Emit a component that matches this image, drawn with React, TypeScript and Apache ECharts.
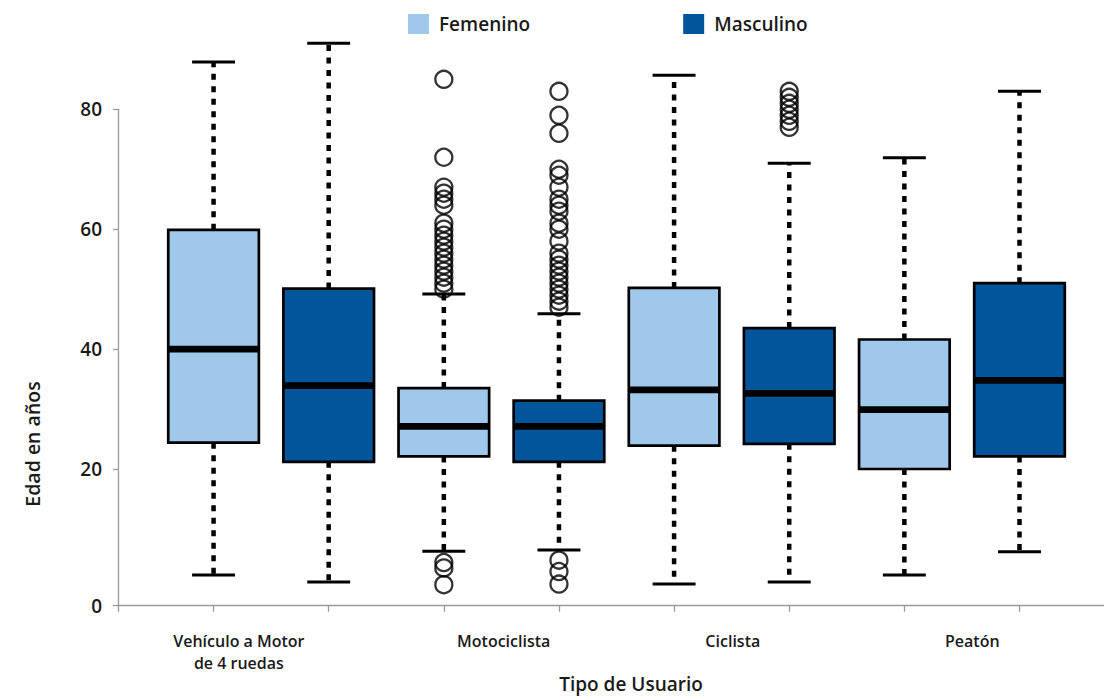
import React, { useEffect, useRef } from 'react';
import * as echarts from 'echarts';

// ---------- data ----------
const categories = ['Vehículo a Motor\nde 4 ruedas', 'Motociclista', 'Ciclista', 'Peatón'];
const seriesNames = ['Femenino', 'Masculino'];
const femeninoPos = [1, 3, 5, 7];
const masculinoPos = [2, 4, 6, 8];
// [min, Q1, median, Q3, max]
const femeninoStats = [
  [2.3, 24.4, 40.0, 59.9, 87.9],
  [6.3, 22.1, 27.1, 33.5, 49.2],
  [0.8, 23.9, 33.2, 50.2, 85.7],
  [2.3, 20.0, 29.9, 41.6, 71.9],
];
const masculinoStats = [
  [1.15, 21.2, 33.9, 50.1, 91.0],
  [6.5, 21.2, 27.1, 31.4, 45.9],
  [1.15, 24.2, 32.6, 43.5, 71.0],
  [6.2, 22.1, 34.8, 51.0, 83.0],
];
const femeninoOutliers = [
  [],
  [85, 72, 67, 66, 65, 64, 61, 60, 59, 58, 57, 56, 55, 54, 53, 52, 51, 50, 4.4, 3.5, 0.7],
  [],
  [],
];
const masculinoOutliers = [
  [],
  [83, 79, 76, 70, 69, 67, 65, 64, 63, 61, 60, 58, 56, 55, 54, 53, 52, 51, 50, 49, 48, 47, 4.8, 2.9, 0.8],
  [83, 82, 81, 80, 79, 78, 77],
  [],
];
const Y_MIN = -2.8;
const Y_MAX = 80;
const yTickValues = [Y_MIN, 20, 40, 60, 80];
const yTickLabels = ['0', '20', '40', '60', '80'];
const X_MIN = 0.17;
const X_MAX = 8.734;
const xTickValues = [X_MIN, 1, 2, 3, 4, 5, 6, 7, 8];
const xLabelPos = [1.22, 3.52, 5.51, 7.59];

// ---------- style ----------
const FONT = "'Open Sans', 'Noto Sans', sans-serif";
const TEXT_COLOR = '#1a1a1a';
const AXIS_COLOR = '#9a9a9a';
const COLOR_FEM = '#9FC8EA';
const COLOR_MASC = '#00559B';
const BOX_RATIO = 0.787;
const CAP_RATIO = 0.373;

const makeRenderItem = (fill: string) => (params: any, api: any) => {
  const x = api.value(0);
  const pMin = api.coord([x, api.value(1)]);
  const pQ1 = api.coord([x, api.value(2)]);
  const pMed = api.coord([x, api.value(3)]);
  const pQ3 = api.coord([x, api.value(4)]);
  const pMax = api.coord([x, api.value(5)]);
  const unit = api.size([1, 0])[0];
  const bw = unit * BOX_RATIO;
  const cw = unit * CAP_RATIO;
  const cx = pMed[0];
  const dash = { stroke: '#000', lineWidth: 4.5, lineDash: [6, 6.5] };
  const cap = { stroke: '#000', lineWidth: 3 };
  return {
    type: 'group',
    children: [
      { type: 'line', shape: { x1: cx, y1: pQ3[1], x2: cx, y2: pMax[1] }, style: dash },
      { type: 'line', shape: { x1: cx, y1: pQ1[1], x2: cx, y2: pMin[1] }, style: dash },
      { type: 'line', shape: { x1: cx - cw / 2, y1: pMax[1], x2: cx + cw / 2, y2: pMax[1] }, style: cap },
      { type: 'line', shape: { x1: cx - cw / 2, y1: pMin[1], x2: cx + cw / 2, y2: pMin[1] }, style: cap },
      {
        type: 'rect',
        shape: { x: cx - bw / 2, y: pQ3[1], width: bw, height: pQ1[1] - pQ3[1] },
        style: { fill, stroke: '#000', lineWidth: 2.7 },
      },
      {
        type: 'line',
        shape: { x1: cx - bw / 2, y1: pMed[1], x2: cx + bw / 2, y2: pMed[1] },
        style: { stroke: '#000', lineWidth: 6.7 },
      },
    ],
  };
};

export default function App() {
  const ref = useRef<HTMLDivElement>(null);
  useEffect(() => {
    if (!ref.current) return;
    const chart = echarts.init(ref.current, undefined, { renderer: 'svg' });
    const femData = femeninoPos.map((p, i) => [p, ...femeninoStats[i]]);
    const mascData = masculinoPos.map((p, i) => [p, ...masculinoStats[i]]);
    const femOut = femeninoOutliers.flatMap((arr, i) => arr.map((v) => [femeninoPos[i], v]));
    const mascOut = masculinoOutliers.flatMap((arr, i) => arr.map((v) => [masculinoPos[i], v]));
    const outlierStyle = {
      type: 'scatter' as const,
      symbol: 'circle',
      symbolSize: 17,
      clip: false,
      itemStyle: { color: 'rgba(0,0,0,0)', borderColor: '#000', borderWidth: 2.3 },
      z: 5,
    };
    chart.setOption({
      animation: false,
      backgroundColor: '#fff',
      textStyle: { fontFamily: FONT },
      legend: {
        data: seriesNames,
        left: 408,
        top: 14,
        padding: 0,
        icon: 'rect',
        itemWidth: 21,
        itemHeight: 20,
        itemGap: 153,
        itemStyle: { borderWidth: 0 },
        textStyle: { fontSize: 19, fontWeight: 600, color: TEXT_COLOR, fontFamily: FONT, padding: [3, 0, 0, 5] },
      },
      grid: { left: 118, right: 0, top: 109.3, bottom: 94.3, containLabel: false, outerBoundsMode: 'none' },
      xAxis: {
        type: 'value',
        min: X_MIN,
        max: X_MAX,
        splitLine: { show: false },
        axisLine: { show: true, onZero: false, lineStyle: { color: AXIS_COLOR, width: 1.3 } },
        axisTick: { show: true, customValues: xTickValues, length: 6, lineStyle: { color: AXIS_COLOR, width: 1.3 } },
        axisLabel: {
          customValues: xLabelPos,
          margin: 24.7,
          fontSize: 16,
          fontWeight: 600,
          lineHeight: 22,
          color: TEXT_COLOR,
          fontFamily: FONT,
          formatter: (v: number) => {
            const i = xLabelPos.findIndex((p) => Math.abs(p - v) < 1e-3);
            return i >= 0 ? categories[i] : '';
          },
        },
        name: 'Tipo de Usuario',
        nameLocation: 'middle',
        nameGap: 68,
        nameMoveOverlap: false,
        nameTextStyle: {
          fontSize: 19,
          lineHeight: 20,
          fontWeight: 600,
          color: TEXT_COLOR,
          fontFamily: FONT,
          padding: [0, 0, 0, 40],
        },
      },
      yAxis: {
        type: 'value',
        min: Y_MIN,
        max: Y_MAX,
        splitLine: { show: false },
        axisLine: { show: true, onZero: false, lineStyle: { color: AXIS_COLOR, width: 1.3 } },
        axisTick: { show: true, customValues: yTickValues, length: 5, lineStyle: { color: AXIS_COLOR, width: 1.3 } },
        axisLabel: {
          customValues: yTickValues,
          margin: 16,
          fontSize: 19,
          fontWeight: 600,
          color: TEXT_COLOR,
          fontFamily: FONT,
          formatter: (v: number) => {
            const i = yTickValues.findIndex((p) => Math.abs(p - v) < 1e-3);
            return i >= 0 ? yTickLabels[i] : '';
          },
        },
        name: 'Edad en años',
        nameLocation: 'middle',
        nameRotate: 90,
        nameGap: 76,
        nameMoveOverlap: false,
        nameTextStyle: { fontSize: 19.5, fontWeight: 600, color: TEXT_COLOR, fontFamily: FONT, padding: [0, 173, 0, 0] },
      },
      series: [
        {
          name: seriesNames[0],
          type: 'custom',
          renderItem: makeRenderItem(COLOR_FEM),
          itemStyle: { color: COLOR_FEM },
          encode: { x: 0, y: [1, 2, 3, 4, 5] },
          data: femData,
          z: 2,
        },
        {
          name: seriesNames[1],
          type: 'custom',
          renderItem: makeRenderItem(COLOR_MASC),
          itemStyle: { color: COLOR_MASC },
          encode: { x: 0, y: [1, 2, 3, 4, 5] },
          data: mascData,
          z: 2,
        },
        { ...outlierStyle, name: 'Femenino (atípicos)', data: femOut },
        { ...outlierStyle, name: 'Masculino (atípicos)', data: mascOut },
      ],
    });
    return () => chart.dispose();
  }, []);
  return (
    <div
      ref={ref}
      style={{ position: 'fixed', left: 0, top: 0, width: '1104px', height: '700px' }}
    />
  );
}
